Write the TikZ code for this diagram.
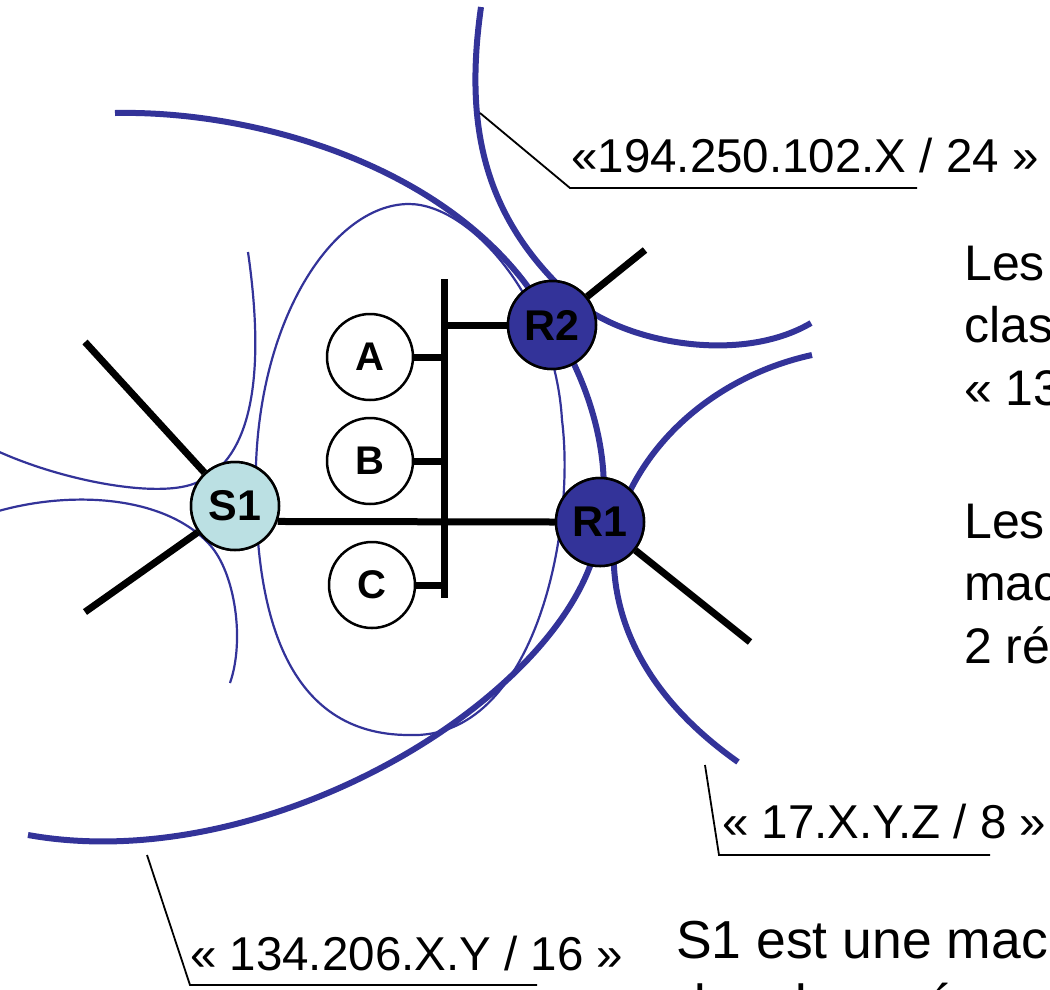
\documentclass[tikz,border=0pt]{standalone}
\usepackage{fontspec}
\setmainfont{Liberation Sans}
\definecolor{netblue}{RGB}{51,51,153}
\definecolor{hostcyan}{RGB}{187,224,227}
\begin{document}
\begin{tikzpicture}[x=1pt,y=-1pt,
  net/.style={draw=netblue, line width=6pt},
  subnet/.style={draw=netblue, line width=2.2pt},
  wire/.style={draw=black, line width=7pt},
  leader/.style={draw=black, line width=1.8pt},
  host/.style={circle, draw=black, line width=2.5pt, fill=white, minimum size=86pt,
    inner sep=0pt, font=\fontsize{40}{40}\selectfont\bfseries},
  server/.style={host, fill=hostcyan, minimum size=88pt, font=\fontsize{43}{43}\selectfont\bfseries},
  router/.style={host, fill=netblue, minimum size=88pt, font=\fontsize{43}{43}\selectfont\bfseries},
  netlabel/.style={anchor=base west, inner sep=0pt, font=\fontsize{47.5}{57}\selectfont},
  bodytext/.style={anchor=base west, inner sep=0pt, font=\fontsize{50}{62}\selectfont},
  bottomtext/.style={anchor=base west, inner sep=0pt, font=\fontsize{53.5}{64}\selectfont}
]
\useasboundingbox (0,0) rectangle (1050,989);
\clip (0,0) rectangle (1050,989);

% network 194.250.102.X / 24
\draw[net] (481,7) .. controls (465,120) and (480,215) .. (572,298)
  .. controls (622,343) and (740,365) .. (811,323);
% network 134.206.X.Y / 16
\draw[net] (115,113) .. controls (260,110) and (470,170) .. (552,325)
  .. controls (595,390) and (612,470) .. (600,522)
  .. controls (590,680) and (280,880) .. (28,835);
% network 17.X.Y.Z / 8
\draw[net] (812,355) .. controls (720,375) and (640,440) .. (615,530)
  .. controls (605,620) and (650,700) .. (738,762);

% local segment around A, B, C
\draw[subnet] (256,500) .. controls (250,330) and (330,204) .. (409,204)
  .. controls (470,204) and (555,300) .. (562,420)
  .. controls (576,530) and (535,740) .. (409,735)
  .. controls (285,735) and (258,610) .. cycle;

% segments meeting at S1
\draw[subnet] (248,252) .. controls (265,370) and (255,465) .. (190,485)
  .. controls (150,497) and (60,480) .. (-5,450);
\draw[subnet] (-5,512) .. controls (70,490) and (165,495) .. (210,545)
  .. controls (235,573) and (245,640) .. (230,683);

% machines
\node[server] (S1) at (235,506) {S1};
\node[router] (R2) at (552,325) {R2};
\node[router] (R1) at (600,522) {R1};
\node[host] (A) at (370,357) {A};
\node[host] (B) at (370,461) {B};
\node[host] (C) at (372,585) {C};

% bus and cabling
\coordinate (busTop) at (444,279);
\coordinate (busBot) at (444,598);
\coordinate (s1up) at (85,342);
\coordinate (s1down) at (85,612);
\coordinate (r2out) at (645,250);
\coordinate (r1out) at (750,642);
\draw[wire] (busTop) -- (busBot);
\draw[wire] (A.east) -- (A.east -| busTop);
\draw[wire] (B.east) -- (B.east -| busTop);
\draw[wire] (C.east) -- (C.east -| busTop);
\draw[wire] (R2.west) -- (R2.west -| busTop);
\draw[wire] (S1.-20) -- (R1.west);
\draw[wire] (S1) -- (s1up);
\draw[wire] (S1) -- (s1down);
\draw[wire] (R2) -- (r2out);
\draw[wire] (R1) -- (r1out);

% redraw the machines over the cabling
\node[server] at (S1) {S1};
\node[router] at (R2) {R2};
\node[router] at (R1) {R1};

% address labels with their leaders
\coordinate (k1a) at (480,113);
\coordinate (k1b) at (570,188);
\coordinate (k1c) at (917,188);
\draw[leader] (k1a) -- (k1b) -- (k1c);
\node[netlabel] (lab194) at (571,172) {«194.250.102.X / 24 »};

\coordinate (k2a) at (705,765);
\coordinate (k2b) at (719,855);
\coordinate (k2c) at (990,855);
\draw[leader] (k2a) -- (k2b) -- (k2c);
\node[netlabel] (lab17) at (722,838) {« 17.X.Y.Z / 8 »};

\coordinate (k3a) at (147,855);
\coordinate (k3b) at (190,985);
\coordinate (k3c) at (537,985);
\draw[leader] (k3a) -- (k3b) -- (k3c);
\node[netlabel] (lab134) at (190,970) {« 134.206.X.Y / 16 »};

% explanatory text
\node[bodytext] (t1) at (964,280) {Les};
\node[bodytext] (t2) at (964,342) {classe};
\node[bodytext] (t3) at (964,405) {« 134};
\node[bodytext] (t4) at (964,538) {Les};
\node[bodytext] (t5) at (964,600) {machines};
\node[bodytext] (t6) at (964,663) {2 réseaux};
\node[bottomtext] (t7) at (676,958) {S1 est une machine};
\node[bottomtext] (t8) at (676,1022) {des deux réseaux};
\end{tikzpicture}
\end{document}
